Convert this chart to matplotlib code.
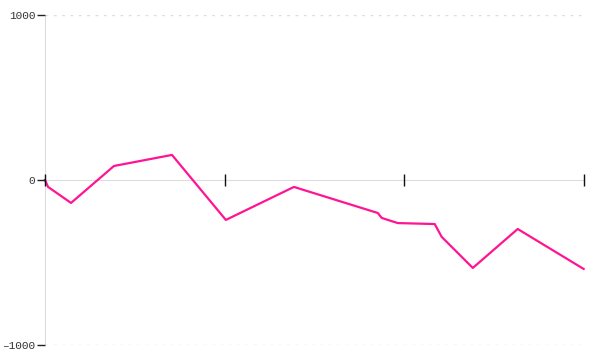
import matplotlib
matplotlib.use('Agg')
import matplotlib.pyplot as plt

# data
xs = [0.0, 0.017, 0.145, 0.384, 0.707, 1.007, 1.386, 1.853, 1.875, 1.964, 2.170, 2.209, 2.382, 2.632, 2.999]
ys = [0, -42, -139, 85, 152, -242, -42, -200, -230, -261, -267, -345, -533, -297, -539]
yticks = [-1000, 0, 1000]
xticks = [0, 1, 2, 3]

plt.rcParams['font.family'] = ['Liberation Mono', 'DejaVu Sans Mono']

fig = plt.figure(figsize=(6, 3.6), dpi=100)
ax = fig.add_axes([0.075, 0.0417, 0.898, 0.9166])

ax.set_xlim(0, 3)
ax.set_ylim(-1000, 1000)

for s in ['top', 'right']:
    ax.spines[s].set_visible(False)
ax.spines['left'].set_color('#dddddd')
ax.spines['left'].set_zorder(0)
ax.spines['bottom'].set_position(('data', 0))
ax.spines['bottom'].set_color('#dddddd')
ax.spines['bottom'].set_zorder(0)

for y in [-1000, 1000]:
    ax.axhline(y, color='#dddddd', lw=1, ls=(0, (2, 4)), zorder=0)

ax.plot(xs, ys, color='#ff1493', lw=1.6, zorder=1, clip_on=False)

ax.set_yticks(yticks)
ax.set_yticklabels(['\u20131000', '0', '1000'], fontsize=8, color='#333333')
ax.tick_params(axis='y', length=6, width=1, color='#222222', pad=1)
ax.set_xticks(xticks)
ax.set_xticklabels([])
ax.tick_params(axis='x', direction='inout', length=9, width=1, color='#111111')
for t in ax.xaxis.get_major_ticks():
    t.tick1line.set_zorder(5)
    t.tick1line.set_clip_on(False)

fig.savefig('out.png', dpi=100)
